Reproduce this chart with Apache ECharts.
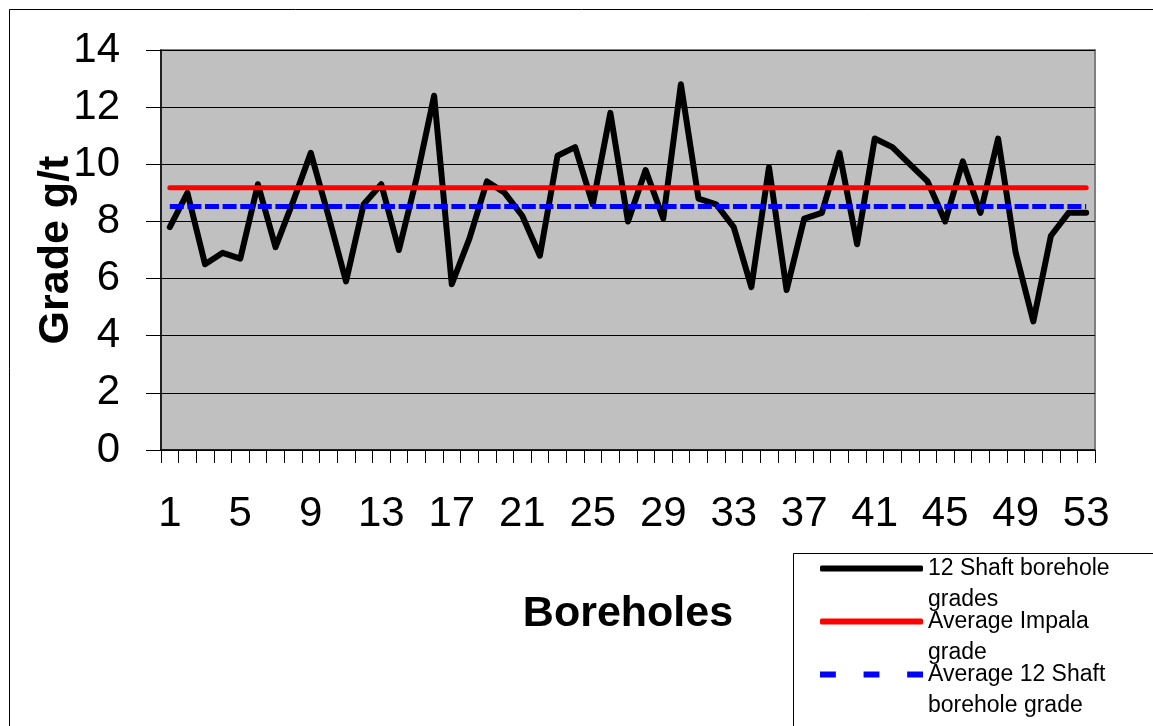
<!DOCTYPE html>
<html>
<head>
<meta charset="utf-8">
<script src="https://cdn.jsdelivr.net/npm/echarts@6/dist/echarts.min.js"></script>
<style>
  html, body { margin: 0; padding: 0; background: #fff; }
  #chart { width: 1153px; height: 726px; }
</style>
</head>
<body>
<div id="chart"></div>
<script>
// Borehole numbers 1..53
const boreholes = ['1','2','3','4','5','6','7','8','9','10','11','12','13','14','15','16','17','18','19','20',
  '21','22','23','24','25','26','27','28','29','30','31','32','33','34','35','36','37','38','39','40',
  '41','42','43','44','45','46','47','48','49','50','51','52','53'];

// Grade per borehole, g/t
const shaftGrades = [7.8, 9.0, 6.5, 6.9, 6.7, 9.3, 7.1, 8.7, 10.4, 8.2,
  5.9, 8.6, 9.3, 7.0, 9.5, 12.4, 5.8, 7.4, 9.4, 9.0,
  8.2, 6.8, 10.3, 10.6, 8.6, 11.8, 8.0, 9.8, 8.1, 12.8,
  8.8, 8.6, 7.8, 5.7, 9.9, 5.6, 8.1, 8.3, 10.4, 7.2,
  10.9, 10.6, 10.0, 9.4, 8.0, 10.1, 8.3, 10.9, 6.9, 4.5,
  7.5, 8.3, 8.3];

// Reference averages, g/t
const impalaAverage = 9.18;
const shaftAverage = 8.52;

const seriesNames = ['12 Shaft borehole grades', 'Average Impala grade', 'Average 12 Shaft borehole grade'];
// Leading blank line keeps the first text line level with the legend swatch
const legendText = {
  '12 Shaft borehole grades': '\n12 Shaft borehole\ngrades',
  'Average Impala grade': '\nAverage Impala\ngrade',
  'Average 12 Shaft borehole grade': '\nAverage 12 Shaft\nborehole grade'
};

const FONT = "'Liberation Sans', Arial, sans-serif";

const chart = echarts.init(document.getElementById('chart'), null, { renderer: 'canvas' });

chart.setOption({
  animation: false,
  backgroundColor: '#ffffff',
  textStyle: { fontFamily: FONT },
  grid: {
    left: 161, top: 50, right: 58, bottom: 276,
    show: true,
    backgroundColor: '#c0c0c0',
    borderColor: '#808080',
    borderWidth: 2
  },
  xAxis: {
    type: 'category',
    data: boreholes,
    boundaryGap: true,
    name: 'Boreholes',
    nameLocation: 'middle',
    nameGap: 143,
    nameTextStyle: { fontSize: 43, fontWeight: 'bold', color: '#000', fontFamily: FONT },
    axisLine: { show: true, lineStyle: { color: '#000', width: 1.5 } },
    axisTick: { show: true, interval: 0, length: 13, lineStyle: { color: '#000', width: 1 } },
    axisLabel: { interval: 3, fontSize: 42, color: '#000', margin: 43, fontFamily: FONT },
    splitLine: { show: false }
  },
  yAxis: {
    type: 'value',
    min: 0, max: 14, interval: 2,
    name: 'Grade g/t',
    nameLocation: 'middle',
    nameRotate: 90,
    nameGap: 83,
    nameMoveOverlap: false,
    nameTextStyle: { fontSize: 43, fontWeight: 'bold', color: '#000', fontFamily: FONT },
    axisLine: { show: true, lineStyle: { color: '#000', width: 1.5 } },
    axisTick: { show: true, length: 15, lineStyle: { color: '#000', width: 1 } },
    axisLabel: { fontSize: 42, color: '#000', margin: 41, fontFamily: FONT },
    splitLine: { show: true, lineStyle: { color: '#000', width: 1 } }
  },
  legend: {
    orient: 'vertical',
    left: 820,
    top: 522,
    padding: 0,
    itemWidth: 103,
    itemHeight: 6,
    itemGap: -40,
    formatter: name => legendText[name],
    textStyle: { fontSize: 23, lineHeight: 31, color: '#000', fontFamily: FONT },
    data: [
      { name: seriesNames[0], icon: 'roundRect' },
      { name: seriesNames[1], icon: 'roundRect' },
      { name: seriesNames[2], icon: 'path://M0,0h16v6h-16zM44,0h16v6h-16zM88,0h16v6h-16z' }
    ]
  },
  graphic: [
    {
      type: 'rect', silent: true, z: 100,
      shape: { x: 9.5, y: 9.5, width: 1300, height: 900 },
      style: { fill: 'none', stroke: '#000', lineWidth: 1 }
    },
    {
      type: 'rect', silent: true, z: 100,
      shape: { x: 793.5, y: 553.5, width: 500, height: 300 },
      style: { fill: 'none', stroke: '#000', lineWidth: 1 }
    }
  ],
  series: [
    {
      name: seriesNames[0],
      type: 'line',
      data: shaftGrades,
      symbol: 'none',
      lineStyle: { color: '#000', width: 6, join: 'round', cap: 'round' },
      itemStyle: { color: '#000' }
    },
    {
      name: seriesNames[1],
      type: 'line',
      data: boreholes.map(() => impalaAverage),
      symbol: 'none',
      lineStyle: { color: '#ff0000', width: 5, cap: 'round' },
      itemStyle: { color: '#ff0000' }
    },
    {
      name: seriesNames[2],
      type: 'line',
      data: boreholes.map(() => shaftAverage),
      symbol: 'none',
      lineStyle: { color: '#0000ff', width: 5, type: [14, 3.6] },
      itemStyle: { color: '#0000ff' }
    }
  ]
});
</script>
</body>
</html>
